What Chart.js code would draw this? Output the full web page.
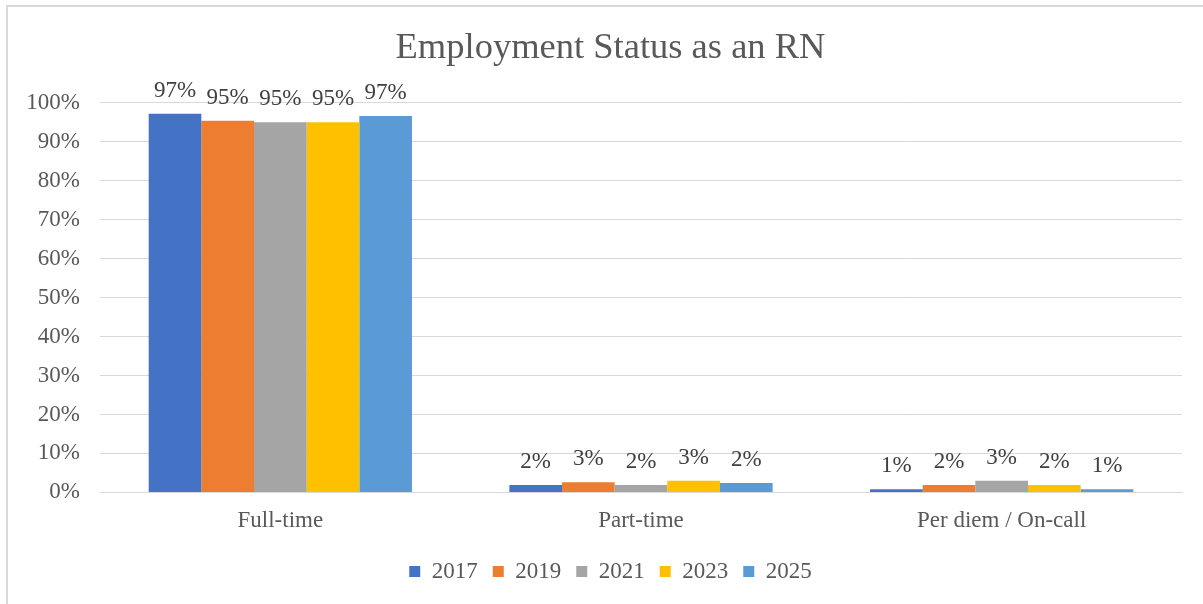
<!DOCTYPE html>
<html>
<head>
<meta charset="utf-8">
<title>Employment Status as an RN</title>
<script src="https://cdn.jsdelivr.net/npm/chart.js@4.4.1/dist/chart.umd.min.js"></script>
<style>
  html, body { margin: 0; padding: 0; background: #ffffff; }
  #wrap { position: relative; width: 1203px; height: 604px; }
</style>
</head>
<body>
<div id="wrap"><canvas id="chart" width="1203" height="604"></canvas></div>
<script>
// Employment status shares (%) by survey year
const categories = ['Full-time', 'Part-time', 'Per diem / On-call'];
const years = ['2017', '2019', '2021', '2023', '2025'];
const share2017 = [97.2, 1.9, 0.8];
const share2019 = [95.4, 2.6, 1.9];
const share2021 = [95.0, 1.9, 3.0];
const share2023 = [95.0, 3.0, 1.9];
const share2025 = [96.6, 2.4, 0.8];
const yTickValues = [0, 10, 20, 30, 40, 50, 60, 70, 80, 90, 100];

const seriesValues = [share2017, share2019, share2021, share2023, share2025];
const seriesColors = ['#4472C4', '#ED7D31', '#A5A5A5', '#FFC000', '#5B9BD5'];

const SERIF = '"Liberation Serif", "Times New Roman", Times, serif';

// Percentage labels above each bar
const barValueLabels = {
  id: 'barValueLabels',
  afterDatasetsDraw(chart) {
    const ctx = chart.ctx;
    ctx.save();
    ctx.font = '23px ' + SERIF;
    ctx.fillStyle = '#404040';
    ctx.textAlign = 'center';
    ctx.textBaseline = 'alphabetic';
    chart.data.datasets.forEach((ds, i) => {
      const meta = chart.getDatasetMeta(i);
      meta.data.forEach((bar, j) => {
        ctx.fillText(Math.round(ds.data[j]) + '%', bar.x, bar.y - 17);
      });
    });
    ctx.restore();
  }
};

// Light frame around the chart
const chartFrame = {
  id: 'chartFrame',
  beforeDraw(chart) {
    const ctx = chart.ctx;
    ctx.save();
    ctx.strokeStyle = '#d9d9d9';
    ctx.lineWidth = 2;
    ctx.beginPath();
    ctx.moveTo(7, chart.height);
    ctx.lineTo(7, 6);
    ctx.lineTo(chart.width, 6);
    ctx.stroke();
    ctx.restore();
  }
};

new Chart(document.getElementById('chart'), {
  type: 'bar',
  data: {
    labels: categories,
    datasets: years.map((y, i) => ({
      label: y,
      data: seriesValues[i],
      backgroundColor: seriesColors[i],
      borderWidth: 0,
      categoryPercentage: 0.73,
      barPercentage: 1.0
    }))
  },
  options: {
    responsive: false,
    animation: false,
    layout: { padding: { top: 10, left: 23, right: 5, bottom: 11 } },
    plugins: {
      title: {
        display: true,
        text: 'Employment Status as an RN',
        color: '#595959',
        font: { family: SERIF, size: 36.5, weight: 'normal' },
        padding: { top: 17, bottom: 32 }
      },
      legend: {
        display: true,
        position: 'bottom',
        labels: {
          color: '#595959',
          font: { family: SERIF, size: 23 },
          boxWidth: 11,
          boxHeight: 11,
          padding: 15
        }
      },
      tooltip: { enabled: false }
    },
    scales: {
      x: {
        grid: { display: false, drawTicks: false },
        border: { display: true, color: '#d9d9d9', width: 1 },
        ticks: {
          color: '#595959',
          font: { family: SERIF, size: 23 },
          padding: 15
        },
        afterFit(scale) {
          scale.height -= 5;
          scale.paddingRight = 21;
        }
      },
      y: {
        min: 0,
        max: 100,
        afterBuildTicks(scale) {
          scale.ticks = yTickValues.map(v => ({ value: v }));
        },
        afterFit(scale) { scale.width = 77; },
        grid: { color: '#d9d9d9', lineWidth: 1, drawTicks: false },
        border: { display: false },
        ticks: {
          color: '#595959',
          font: { family: SERIF, size: 23 },
          padding: 20,
          callback: v => v + '%'
        }
      }
    }
  },
  plugins: [barValueLabels, chartFrame]
});
</script>
</body>
</html>
